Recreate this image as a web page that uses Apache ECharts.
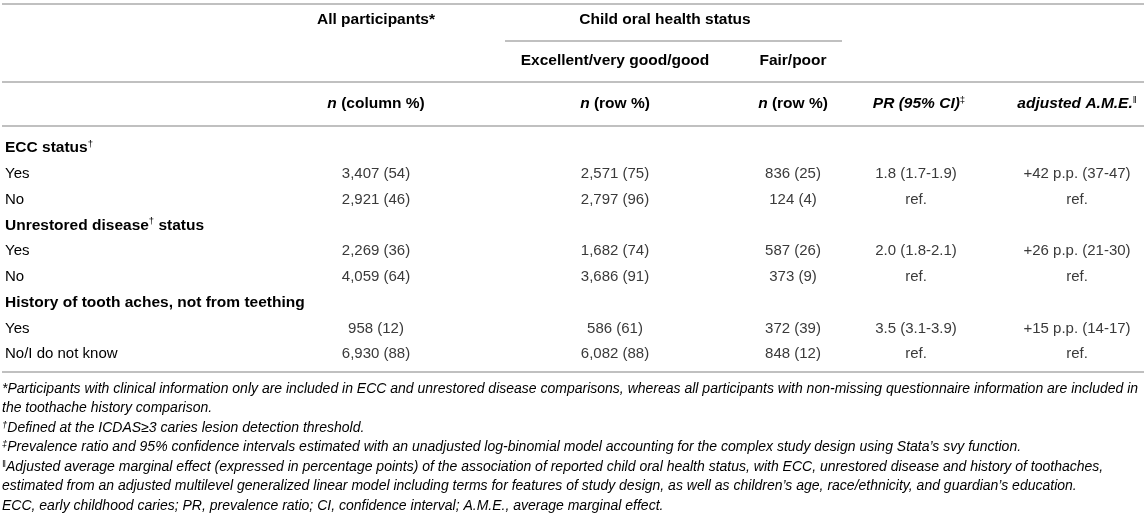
<!DOCTYPE html>
<html>
<head>
<meta charset="utf-8">
<script src="https://cdn.jsdelivr.net/npm/echarts@6/dist/echarts.min.js"></script>
<style>
  html, body { margin: 0; padding: 0; background: #fff; }
  #main { width: 1146px; height: 531px; }
</style>
</head>
<body>
<div id="main"></div>
<script>
// table content
var rowLabels = ['ECC status†', 'Yes', 'No', 'Unrestored disease† status', 'Yes', 'No',
  'History of tooth aches, not from teething', 'Yes', 'No/I do not know'];
var sectionRows = [true, false, false, true, false, false, true, false, false];
var allParticipants = ['', '3,407 (54)', '2,921 (46)', '', '2,269 (36)', '4,059 (64)', '', '958 (12)', '6,930 (88)'];
var goodHealth = ['', '2,571 (75)', '2,797 (96)', '', '1,682 (74)', '3,686 (91)', '', '586 (61)', '6,082 (88)'];
var fairPoor = ['', '836 (25)', '124 (4)', '', '587 (26)', '373 (9)', '', '372 (39)', '848 (12)'];
var prevalenceRatio = ['', '1.8 (1.7-1.9)', 'ref.', '', '2.0 (1.8-2.1)', 'ref.', '', '3.5 (3.1-3.9)', 'ref.'];
var adjustedAME = ['', '+42 p.p. (37-47)', 'ref.', '', '+26 p.p. (21-30)', 'ref.', '', '+15 p.p. (14-17)', 'ref.'];
var footnotes = [
  '*Participants with clinical information only are included in ECC and unrestored disease comparisons, whereas all participants with non-missing questionnaire information are included in',
  'the toothache history comparison.',
  '†Defined at the ICDAS≥3 caries lesion detection threshold.',
  '‡Prevalence ratio and 95% confidence intervals estimated with an unadjusted log-binomial model accounting for the complex study design using Stata’s svy function.',
  '‖Adjusted average marginal effect (expressed in percentage points) of the association of reported child oral health status, with ECC, unrestored disease and history of toothaches,',
  'estimated from an adjusted multilevel generalized linear model including terms for features of study design, as well as children’s age, race/ethnicity, and guardian’s education.',
  'ECC, early childhood caries; PR, prevalence ratio; CI, confidence interval; A.M.E., average marginal effect.'
];

// layout
var W = 1146;
var FONT = '"Liberation Sans", Arial, sans-serif';
var TXT = '#3a3a3a';
var RULE = '#c0c0c0';
var labelX = 5;
var colX = [376, 615, 793, 916, 1077];
var columns = [allParticipants, goodHealth, fairPoor, prevalenceRatio, adjustedAME];
var rowTop = 135, rowStep = 25.8;

var rich = {
  r: { fontFamily: FONT, fontSize: 15, color: TXT },
  b: { fontFamily: FONT, fontSize: 15.5, fontWeight: 'bold', color: '#222' },
  bi: { fontFamily: FONT, fontSize: 15.5, fontWeight: 'bold', fontStyle: 'italic', color: '#222' },
  i: { fontFamily: FONT, fontSize: 14, fontStyle: 'italic', color: TXT },
  sup: { fontFamily: FONT, fontSize: 9.5, color: '#333', verticalAlign: 'top', padding: [0, 0, 7, 0] },
  isup: { fontFamily: FONT, fontSize: 9.5, fontStyle: 'italic', color: '#333', verticalAlign: 'top', padding: [0, 0, 6, 0] }
};

// wrap text with markers as superscripts
function fmt(text, base, supStyle) {
  var out = '', buf = '';
  for (var k = 0; k < text.length; k++) {
    var ch = text[k];
    if (ch === '†' || ch === '‡' || ch === '‖') {
      if (buf) out += '{' + base + '|' + buf + '}';
      buf = '';
      out += '{' + (supStyle || 'sup') + '|' + ch + '}';
    } else {
      buf += ch;
    }
  }
  if (buf) out += '{' + base + '|' + buf + '}';
  return out;
}

function hline(x1, x2, y) {
  return { type: 'line', shape: { x1: x1, y1: y, x2: x2, y2: y }, style: { stroke: RULE, lineWidth: 2 }, silent: true };
}
function htext(x, y, text, align) {
  return { type: 'text', x: x, y: y, style: { text: text, rich: rich, align: align || 'center', verticalAlign: 'middle' }, silent: true };
}

var graphics = [
  hline(2, W - 2, 4),
  htext(colX[0], 20, '{b|All participants*}'),
  htext(665, 20, '{b|Child oral health status}'),
  hline(505, 842, 41),
  htext(colX[1], 61, '{b|Excellent/very good/good}'),
  htext(colX[2], 61, '{b|Fair/poor}'),
  hline(2, W - 2, 82),
  htext(colX[0], 104, '{bi|n}{b| (column %)}'),
  htext(colX[1], 104, '{bi|n}{b| (row %)}'),
  htext(colX[2], 104, '{bi|n}{b| (row %)}'),
  htext(colX[3] + 3, 104, fmt('PR (95% CI)‡', 'bi')),
  htext(colX[4], 104, fmt('adjusted A.M.E.‖', 'bi')),
  hline(2, W - 2, 126),
  hline(2, W - 2, 372)
];
footnotes.forEach(function (line, k) {
  graphics.push(htext(2, 389 + k * 19.5, fmt(line, 'i', 'isup'), 'left'));
});

var rowData = rowLabels.map(function (_, i) { return [0, i]; });

function renderItem(params, api) {
  var i = api.value(1);
  var y = api.coord([0, i])[1];
  var children = [{
    type: 'text',
    x: api.coord([labelX, i])[0], y: y,
    style: { text: fmt(rowLabels[i], sectionRows[i] ? 'b' : 'r'), rich: rich, align: 'left', verticalAlign: 'middle' }
  }];
  columns.forEach(function (col, c) {
    if (!col[i]) return;
    children.push({
      type: 'text',
      x: api.coord([colX[c], i])[0], y: y,
      style: { text: col[i], fontFamily: FONT, fontSize: 15, fill: TXT, align: 'center', verticalAlign: 'middle' }
    });
  });
  return { type: 'group', children: children };
}

var chart = echarts.init(document.getElementById('main'), null, { renderer: 'canvas' });
chart.setOption({
  animation: false,
  grid: { left: 0, right: 0, top: rowTop, height: rowStep * rowLabels.length },
  xAxis: { type: 'value', min: 0, max: W, show: false },
  yAxis: { type: 'category', data: rowLabels.map(function (_, i) { return i; }), inverse: true, show: false },
  graphic: graphics,
  series: [{
    type: 'custom',
    renderItem: renderItem,
    encode: { x: 0, y: 1 },
    data: rowData
  }]
});
</script>
</body>
</html>
